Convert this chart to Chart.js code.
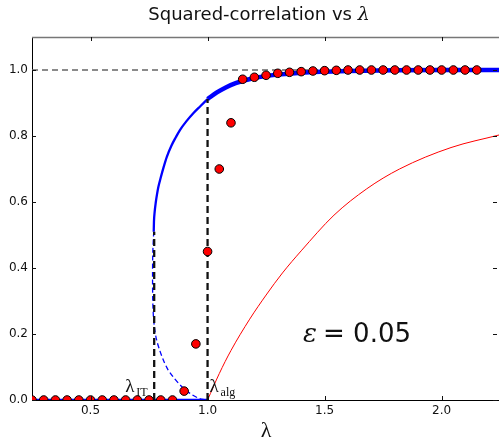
<!DOCTYPE html>
<html>
<head>
<meta charset="utf-8">
<script src="https://cdn.jsdelivr.net/npm/chart.js@4.4.0/dist/chart.umd.min.js"></script>
<style>
  html, body { margin: 0; padding: 0; background: #fff; }
  #wrap { width: 499px; height: 439px; }
</style>
</head>
<body>
<div id="wrap"><canvas id="chart" width="499" height="439"></canvas></div>
<script>
// simulated points (red dots)
const dotLambda = [0.25, 0.30, 0.35, 0.40, 0.45, 0.50, 0.55, 0.60, 0.65, 0.70, 0.75, 0.80, 0.85,
    0.90, 0.95, 1.00, 1.05, 1.10, 1.15, 1.20, 1.25, 1.30, 1.35, 1.40, 1.45, 1.50, 1.55,
    1.60, 1.65, 1.70, 1.75, 1.80, 1.85, 1.90, 1.95, 2.00, 2.05, 2.10, 2.15];
const dotValues = [0, 0, 0, 0, 0, 0, 0, 0, 0, 0, 0, 0, 0,
    0.027, 0.17, 0.45, 0.70, 0.84, 0.972, 0.978, 0.984, 0.99, 0.993, 0.995, 0.997, 0.998, 0.999,
    1, 1, 1, 1, 1, 1, 1, 1, 1, 1, 1, 1];

// stable branch (blue, thin before lambda_alg, thick after)
const stableLambda = [0.770, 0.771, 0.774, 0.779, 0.784, 0.790, 0.800, 0.812, 0.826, 0.845, 0.865, 0.882, 0.910, 0.939, 0.970, 1.0];
const stableValues = [0.51, 0.54, 0.57, 0.60, 0.623, 0.646, 0.674, 0.705, 0.737, 0.770, 0.797, 0.818, 0.845, 0.869, 0.891, 0.912];
const highLambda = [1.0, 1.04, 1.08, 1.12, 1.16, 1.20, 1.30, 1.40, 1.50, 1.60, 1.80, 2.00, 2.245];
const highValues = [0.912, 0.932, 0.948, 0.960, 0.969, 0.976, 0.986, 0.992, 0.995, 0.997, 0.999, 1.0, 1.0];

// unstable branch (blue dashed)
const unstableLambda = [0.770, 0.766, 0.765, 0.766, 0.769, 0.775, 0.783, 0.795, 0.811, 0.830, 0.854, 0.885, 0.925, 0.960, 0.990];
const unstableValues = [0.51, 0.445, 0.37, 0.30, 0.25, 0.21, 0.18, 0.152, 0.121, 0.093, 0.069, 0.044, 0.020, 0.006, 0.0];

// trivial fixed point
const zeroLambda = [0.25, 1.0];
const zeroValues = [0, 0];

// spectral method (red line)
const pcaLambda = [1.0, 1.05, 1.10, 1.18, 1.25, 1.32, 1.40, 1.54, 1.68, 1.82, 2.04, 2.245];
const pcaValues = [0, 0.08, 0.15, 0.245, 0.318, 0.385, 0.452, 0.56, 0.64, 0.70, 0.765, 0.803];

const lambdaIT = 0.772;
const lambdaAlg = 1.0;
const itTop = 0.51;
const algTop = 0.912;

const xTicks = [0.5, 1.0, 1.5, 2.0];
const yTicks = [0.0, 0.2, 0.4, 0.6, 0.8, 1.0];
const xRange = [0.25, 2.245];
const yRange = [0, 1.1];

const pts = (xs, ys) => xs.map((x, i) => ({ x: x, y: ys[i] }));

const frame = {
    id: 'frame',
    afterDraw(chart) {
        const { ctx, chartArea: a, scales: { x, y } } = chart;
        ctx.save();
        // top spine
        ctx.strokeStyle = '#777';
        ctx.lineWidth = 1.5;
        ctx.beginPath();
        ctx.moveTo(a.left, a.top + 0.5);
        ctx.lineTo(a.right, a.top + 0.5);
        ctx.stroke();
        // inward ticks
        ctx.strokeStyle = '#111';
        ctx.lineWidth = 1;
        ctx.beginPath();
        xTicks.forEach(v => {
            const px = Math.round(x.getPixelForValue(v)) + 0.5;
            ctx.moveTo(px, a.bottom); ctx.lineTo(px, a.bottom - 4);
            ctx.moveTo(px, a.top); ctx.lineTo(px, a.top + 4);
        });
        yTicks.forEach(v => {
            const py = Math.round(y.getPixelForValue(v)) + 0.5;
            ctx.moveTo(a.left, py); ctx.lineTo(a.left + 4, py);
            ctx.moveTo(a.right - 2, py); ctx.lineTo(a.right - 6, py);
        });
        ctx.stroke();

        ctx.fillStyle = '#111';
        ctx.textBaseline = 'alphabetic';
        // title
        ctx.font = '18px "DejaVu Sans"';
        const t1 = 'Squared-correlation vs ';
        const w1 = ctx.measureText(t1).width;
        ctx.font = 'italic 19px "DejaVu Serif"';
        const w2 = ctx.measureText('λ').width;
        let tx = 259 - (w1 + w2) / 2;
        ctx.font = '18px "DejaVu Sans"';
        ctx.textAlign = 'left';
        ctx.fillText(t1, tx, 20);
        ctx.font = 'italic 19px "DejaVu Serif"';
        ctx.fillText('λ', tx + w1, 20);

        // x axis label
        ctx.font = '22px "Liberation Serif"';
        ctx.textAlign = 'center';
        ctx.fillText('λ', 266, 437);

        // lambda_IT label
        ctx.textAlign = 'left';
        const xIT = x.getPixelForValue(lambdaIT);
        ctx.font = '19px "Liberation Serif"';
        ctx.fillText('λ', xIT - 29, 392);
        ctx.font = '12px "Liberation Serif"';
        ctx.fillText('IT', xIT - 18, 396);

        // lambda_alg label
        const xAlg = x.getPixelForValue(lambdaAlg);
        ctx.font = '19px "Liberation Serif"';
        ctx.fillText('λ', xAlg + 2, 392);
        ctx.font = '12px "Liberation Serif"';
        ctx.fillText('alg', xAlg + 13, 396);

        // epsilon annotation
        const ex = x.getPixelForValue(1.408);
        const ey = y.getPixelForValue(0.176);
        ctx.font = 'italic 26px "DejaVu Serif"';
        ctx.fillText('ε', ex, ey);
        ctx.font = '26px "DejaVu Sans"';
        ctx.fillText('= 0.05', ex + 20, ey);
        ctx.restore();
    }
};

new Chart(document.getElementById('chart'), {
    type: 'scatter',
    data: {
        datasets: [
            {
                label: 'simulation',
                data: pts(dotLambda, dotValues),
                backgroundColor: '#ff0000',
                borderColor: '#000',
                borderWidth: 1,
                pointRadius: 4.3,
                showLine: false,
                clip: 0
            },
            {
                label: 'IT',
                data: pts([lambdaIT, lambdaIT], [0, itTop]),
                showLine: true, pointRadius: 0,
                borderColor: '#111', borderWidth: 2.3, borderDash: [7, 4]
            },
            {
                label: 'alg',
                data: pts([lambdaAlg, lambdaAlg], [0, algTop]),
                showLine: true, pointRadius: 0,
                borderColor: '#111', borderWidth: 2.3, borderDash: [7, 4]
            },
            {
                label: 'stable high',
                data: pts(highLambda, highValues),
                showLine: true, pointRadius: 0,
                borderColor: '#0000ff', borderWidth: 4.5,
                cubicInterpolationMode: 'monotone'
            },
            {
                label: 'stable',
                data: pts(stableLambda, stableValues),
                showLine: true, pointRadius: 0,
                borderColor: '#0000ff', borderWidth: 2.3,
                cubicInterpolationMode: 'monotone'
            },
            {
                label: 'unstable',
                data: pts(unstableLambda, unstableValues),
                showLine: true, pointRadius: 0,
                borderColor: '#0000ff', borderWidth: 1.3, borderDash: [5, 3],
                tension: 0.3
            },
            {
                label: 'zero',
                data: pts(zeroLambda, zeroValues),
                showLine: true, pointRadius: 0,
                borderColor: '#0000ff', borderWidth: 2.5
            },
            {
                label: 'spectral',
                data: pts(pcaLambda, pcaValues),
                showLine: true, pointRadius: 0,
                borderColor: '#ff0000', borderWidth: 1,
                cubicInterpolationMode: 'monotone'
            },
            {
                label: 'one',
                data: pts(xRange, [1, 1]),
                showLine: true, pointRadius: 0,
                borderColor: '#666', borderWidth: 1.5, borderDash: [6, 4]
            }
        ]
    },
    options: {
        responsive: false,
        animation: false,
        layout: { autoPadding: false, padding: { top: 37, right: 0, left: 0, bottom: 0 } },
        plugins: { legend: { display: false }, tooltip: { enabled: false }, title: { display: false } },
        scales: {
            x: {
                type: 'linear', min: xRange[0], max: xRange[1],
                grid: { display: false, drawTicks: false },
                border: { display: true, color: '#000', width: 1 },
                afterBuildTicks: s => { s.ticks = xTicks.map(v => ({ value: v })); },
                afterFit: s => { s.height = 39; s.paddingLeft = 0; s.paddingRight = 0; },
                ticks: {
                    padding: 4, color: '#111',
                    font: { family: 'DejaVu Sans', size: 12 },
                    callback: v => v.toFixed(1)
                }
            },
            y: {
                type: 'linear', min: yRange[0], max: yRange[1],
                grid: { display: false, drawTicks: false },
                border: { display: true, color: '#000', width: 1 },
                afterBuildTicks: s => { s.ticks = yTicks.map(v => ({ value: v })); },
                afterFit: s => { s.width = 32; s.paddingTop = 0; s.paddingBottom = 0; },
                ticks: {
                    padding: 4, color: '#111',
                    font: { family: 'DejaVu Sans', size: 12 },
                    callback: v => v.toFixed(1)
                }
            }
        }
    },
    plugins: [frame]
});
</script>
</body>
</html>
